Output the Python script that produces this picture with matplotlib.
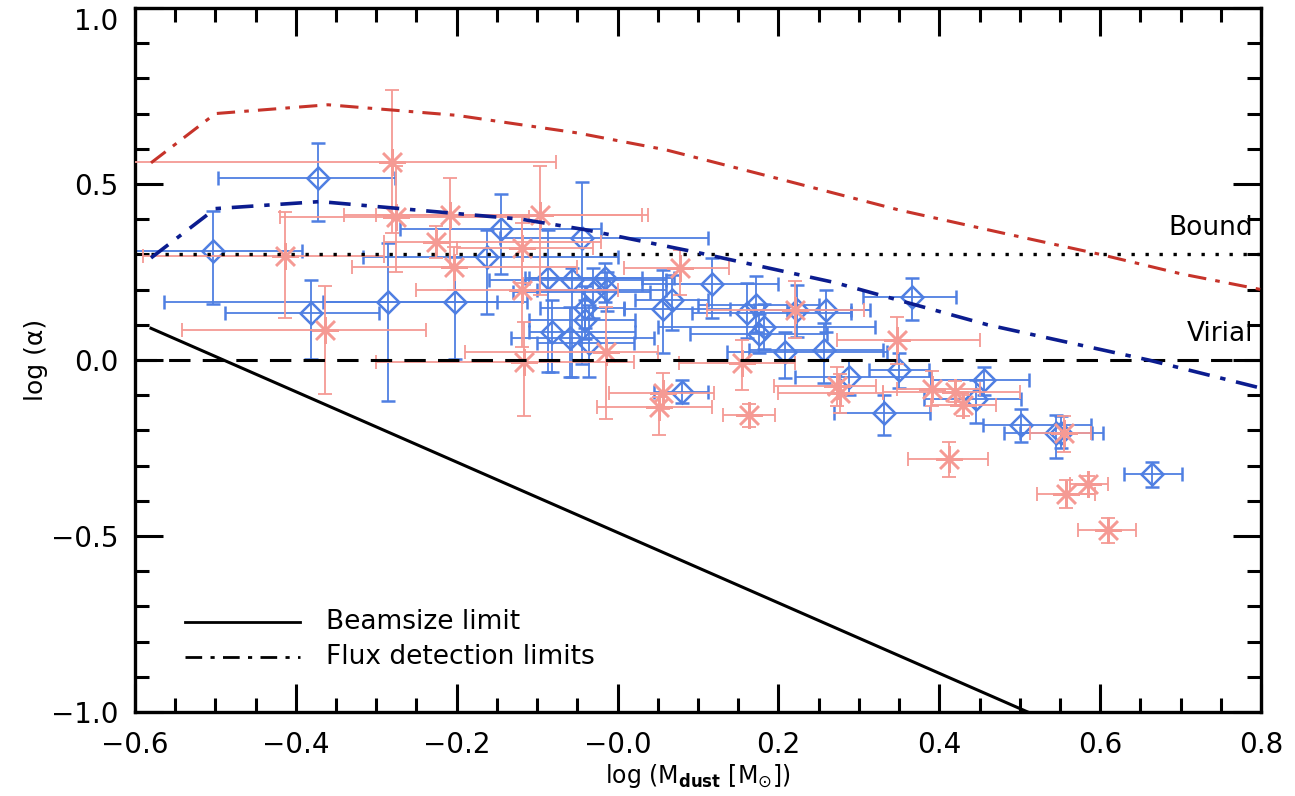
# -*- coding: utf-8 -*-
"""
Virial parameter vs. dust mass: log(alpha) against log(M_dust), two
samples with asymmetric error bars, plus beamsize / flux detection limits.
"""
import numpy as np
import matplotlib
matplotlib.use("Agg")
import matplotlib.pyplot as plt
from matplotlib.ticker import MultipleLocator, FixedLocator, FixedFormatter

BLUE = "#4f7fe2"
PINK = "#f59a94"

# blue diamonds: x, y and error-bar end points
blue_x = [-0.373, -0.503, -0.381, -0.286, -0.202, -0.162, -0.145, -0.044, -0.086, -0.057,
          -0.016, -0.030, -0.013, -0.040, -0.040, -0.081, -0.059, -0.035, 0.068, 0.056,
          0.118, 0.161, 0.172, 0.182, 0.176, 0.223, 0.259, 0.208, 0.257, 0.288,
          0.080, 0.331, 0.350, 0.366, 0.455, 0.445, 0.501, 0.545, 0.551, 0.665]
blue_y = [0.518, 0.311, 0.134, 0.165, 0.165, 0.293, 0.372, 0.347, 0.232, 0.227,
          0.232, 0.194, 0.199, 0.147, 0.114, 0.080, 0.062, 0.049, 0.170, 0.144,
          0.216, 0.133, 0.156, 0.095, 0.073, 0.142, 0.142, 0.022, 0.028, -0.049,
          -0.090, -0.151, -0.029, 0.178, -0.058, -0.111, -0.184, -0.208, -0.208, -0.323]
blue_xlo = [-0.497, -0.62, -0.488, -0.564, -0.366, -0.317, -0.271, -0.146, -0.115, -0.16,
            -0.11, -0.13, -0.10, -0.096, -0.11, -0.11, -0.132, -0.10, 0.022, 0.008,
            0.03, 0.093, 0.10, 0.05, 0.09, 0.17, 0.211, 0.136, 0.163, 0.22,
            0.045, 0.269, 0.313, 0.305, 0.39, 0.381, 0.454, 0.481, 0.50, 0.629]
blue_xhi = [-0.277, -0.392, -0.296, -0.15, -0.112, 0.0, -0.02, 0.113, 0.03, 0.06,
            0.07, 0.04, 0.06, 0.008, 0.022, 0.022, 0.045, 0.02, 0.113, 0.14,
            0.199, 0.29, 0.25, 0.32, 0.26, 0.314, 0.29, 0.335, 0.33, 0.39,
            0.113, 0.388, 0.387, 0.421, 0.512, 0.501, 0.589, 0.604, 0.59, 0.702]
blue_ylo = [0.395, 0.159, 0.002, -0.116, 0.002, 0.13, 0.244, -0.01, -0.033, -0.047,
            0.166, 0.12, 0.14, 0.09, 0.06, -0.033, -0.047, -0.049, 0.085, 0.021,
            0.118, 0.062, 0.08, 0.03, 0.02, 0.066, 0.080, -0.052, -0.066, -0.10,
            -0.123, -0.213, -0.08, 0.113, -0.10, -0.179, -0.232, -0.277, -0.25, -0.362]
blue_yhi = [0.617, 0.423, 0.228, 0.333, 0.293, 0.37, 0.471, 0.507, 0.369, 0.26,
            0.275, 0.26, 0.25, 0.21, 0.17, 0.17, 0.151, 0.156, 0.241, 0.256,
            0.289, 0.218, 0.24, 0.16, 0.13, 0.213, 0.199, 0.08, 0.104, 0.0,
            -0.057, -0.099, 0.02, 0.234, -0.02, -0.058, -0.139, -0.156, -0.16, -0.290]

# pink asterisks
pink_x = [-0.280, -0.413, -0.364, -0.276, -0.208, -0.226, -0.203, -0.096, -0.119, -0.119,
          -0.116, -0.015, 0.078, 0.155, 0.056, 0.051, 0.164, 0.221, 0.273, 0.277,
          0.348, 0.391, 0.420, 0.429, 0.412, 0.555, 0.557, 0.585, 0.610]
pink_y = [0.563, 0.295, 0.085, 0.405, 0.412, 0.336, 0.265, 0.412, 0.317, 0.199,
          -0.005, 0.024, 0.260, -0.009, -0.095, -0.133, -0.156, 0.142, -0.075, -0.095,
          0.057, -0.082, -0.090, -0.129, -0.280, -0.208, -0.381, -0.352, -0.482]
pink_xlo = [-0.62, -0.59, -0.541, -0.42, -0.34, -0.29, -0.33, -0.30, -0.20, -0.25,
            -0.30, -0.19, 0.008, 0.076, -0.011, -0.026, 0.131, 0.111, 0.194, 0.20,
            0.273, 0.347, 0.33, 0.39, 0.361, 0.513, 0.521, 0.562, 0.573]
pink_xhi = [-0.077, -0.29, -0.238, -0.11, 0.038, -0.02, -0.05, 0.03, -0.03, 0.0,
            0.02, 0.05, 0.138, 0.221, 0.12, 0.117, 0.196, 0.306, 0.321, 0.33,
            0.45, 0.45, 0.50, 0.47, 0.461, 0.588, 0.593, 0.610, 0.645]
pink_ylo = [0.36, 0.12, -0.097, 0.25, 0.265, 0.29, 0.20, 0.185, 0.22, 0.038,
            -0.158, -0.168, 0.185, -0.085, -0.14, -0.213, -0.19, 0.062, -0.13, -0.15,
            -0.01, -0.13, -0.12, -0.16, -0.333, -0.26, -0.42, -0.38, -0.52]
pink_yhi = [0.767, 0.42, 0.211, 0.55, 0.516, 0.38, 0.32, 0.551, 0.41, 0.388,
            0.109, 0.151, 0.313, 0.057, -0.038, -0.104, -0.125, 0.225, -0.02, -0.04,
            0.123, -0.03, -0.06, -0.10, -0.232, -0.16, -0.34, -0.33, -0.45]

# flux detection limits (dash-dot curves)
flux_hi_x = [-0.58, -0.50, -0.36, -0.20, -0.05, 0.06, 0.20, 0.35, 0.48, 0.60, 0.70, 0.80]
flux_hi_y = [0.56, 0.70, 0.725, 0.695, 0.645, 0.597, 0.515, 0.426, 0.36, 0.30, 0.245, 0.20]
flux_lo_x = [-0.58, -0.50, -0.37, -0.27, -0.12, -0.04, 0.10, 0.27, 0.46, 0.66, 0.80]
flux_lo_y = [0.29, 0.43, 0.45, 0.43, 0.40, 0.37, 0.305, 0.22, 0.10, 0.0, -0.08]

# beamsize limit (straight line)
beam_x = [-0.58, 0.51]
beam_y = [0.09, -1.0]

bound_level = np.log10(2.0)
virial_level = 0.0

DASHDOT = (0, (6, 3, 1.5, 3))


def err(v, lo, hi):
    v, lo, hi = map(np.asarray, (v, lo, hi))
    return np.vstack([v - lo, hi - v])


fig = plt.figure(figsize=(12.95, 7.96), dpi=100)
ax = fig.add_axes([0.1042, 0.1055, 0.8696, 0.8845])

ax.errorbar(blue_x, blue_y, xerr=err(blue_x, blue_xlo, blue_xhi),
            yerr=err(blue_y, blue_ylo, blue_yhi), fmt="D", ms=11.5, mfc="none",
            mec=BLUE, mew=1.8, ecolor=BLUE, elinewidth=1.3, capsize=5,
            capthick=1.3, zorder=2)
ax.errorbar(pink_x, pink_y, xerr=err(pink_x, pink_xlo, pink_xhi),
            yerr=err(pink_y, pink_ylo, pink_yhi), fmt="none",
            ecolor=PINK, elinewidth=1.3, capsize=5, capthick=1.3, zorder=3)
ax.plot(pink_x, pink_y, ls="none", marker=(8, 2, 0), ms=19, mec=PINK,
        mew=1.8, zorder=3)

ax.plot([-0.58, 0.8], [bound_level] * 2, ls=(0, (1, 3.2)), color="black",
        lw=2.4, zorder=4)
ax.plot([-0.6, 0.8], [virial_level] * 2, ls=(0, (7, 4)), color="black",
        lw=2.2, zorder=4)
ax.plot(flux_hi_x, flux_hi_y, ls=DASHDOT, color="#c6332a", lw=2.2, zorder=4)
ax.plot(flux_lo_x, flux_lo_y, ls=DASHDOT, color="#0b1c8f", lw=2.6, zorder=4)
ax.plot(beam_x, beam_y, color="black", lw=2.2, zorder=4)

ax.text(0.79, 0.375, "Bound", ha="right", va="center", fontsize=19)
ax.text(0.79, 0.075, "Virial", ha="right", va="center", fontsize=19)

# legend drawn by hand, as in the original plot
ax.plot([-0.538, -0.395], [-0.744, -0.744], color="black", lw=2)
ax.plot([-0.538, -0.395], [-0.844, -0.844], ls=DASHDOT, color="black", lw=2)
ax.text(-0.362, -0.744, "Beamsize limit", va="center", fontsize=19)
ax.text(-0.362, -0.844, "Flux detection limits", va="center", fontsize=19)

ax.set_xlim(-0.6, 0.8)
ax.set_ylim(-1.0, 1.0)
xt = [-0.6, -0.4, -0.2, 0.0, 0.2, 0.4, 0.6, 0.8]
ax.xaxis.set_major_locator(FixedLocator(xt))
ax.xaxis.set_major_formatter(FixedFormatter(["\u22120.6", "\u22120.4", "\u22120.2", "\u22120.0",
                                             "0.2", "0.4", "0.6", "0.8"]))
ax.xaxis.set_minor_locator(MultipleLocator(0.05))
yt = [-1.0, -0.5, 0.0, 0.5, 1.0]
ax.yaxis.set_major_locator(FixedLocator(yt))
ax.yaxis.set_major_formatter(FixedFormatter(["\u22121.0", "\u22120.5", "0.0", "0.5", "1.0"]))
ax.yaxis.set_minor_locator(MultipleLocator(0.1))

ax.tick_params(which="both", direction="in", top=True, right=True, width=2.2,
               labelsize=20, color="black")
ax.tick_params(which="major", length=20)
ax.tick_params(which="minor", length=10)
ax.tick_params(axis="x", which="major", pad=14)
ax.tick_params(axis="y", which="major", pad=12)
for s in ax.spines.values():
    s.set_linewidth(2.4)

# top label sits just below the frame edge so it stays on the canvas
fig.canvas.draw()
ax.get_yticklabels()[-1].set_verticalalignment("top")

ax.set_xlabel(r"log (M$_{\mathbf{dust}}$ [M$_{\odot}$])", fontsize=17, labelpad=2)
ax.set_ylabel("log (\u03b1)", fontsize=18, labelpad=2)

fig.savefig("out.png", dpi=100)
